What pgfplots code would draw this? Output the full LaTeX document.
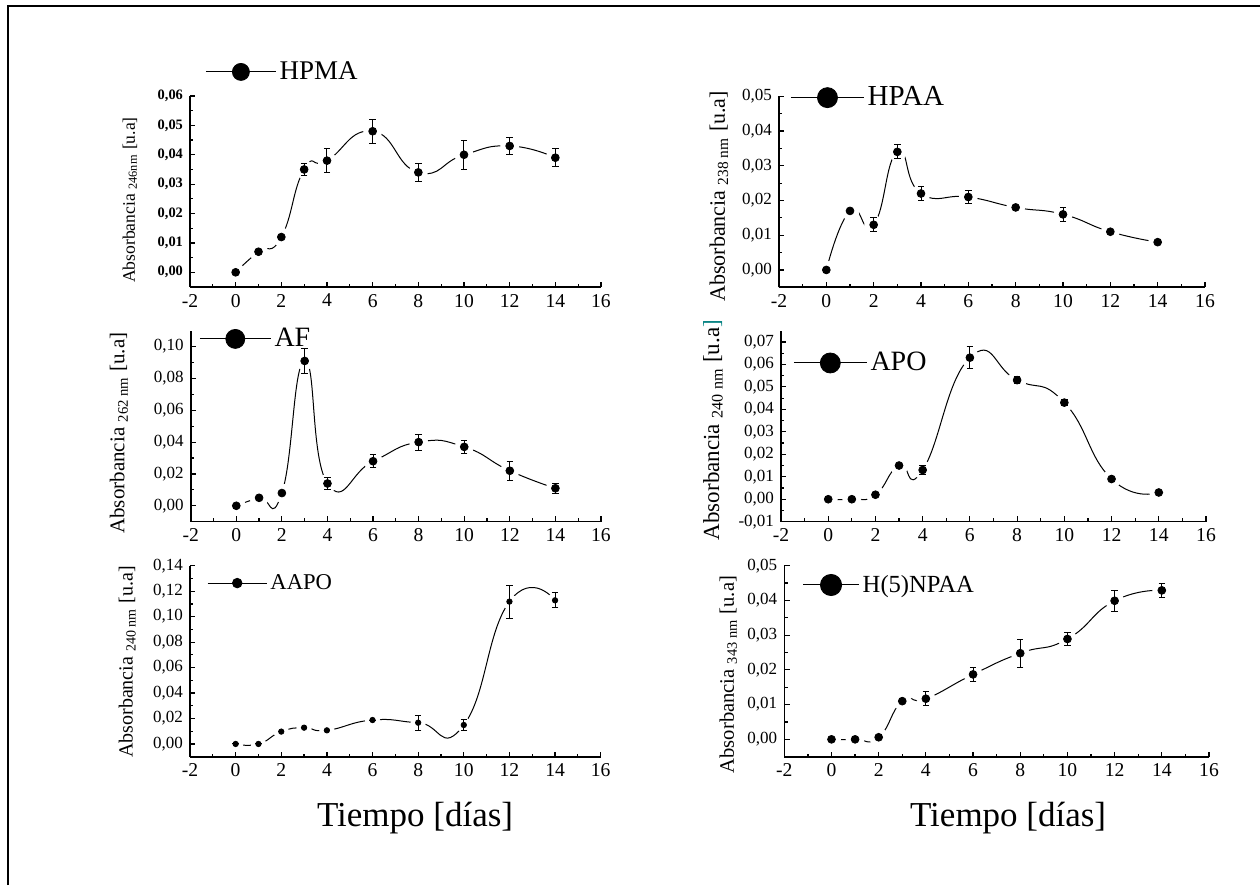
\documentclass[border=0pt]{standalone}
\usepackage{pgfplots}
\pgfplotsset{compat=1.18}
\usepackage{pgfplotstable}
\usepackage{fontspec}
\setmainfont{Liberation Serif}

% x: day, y: absorbance, e: error
\pgfplotstableread{
x y e
0 0 0
1 0.007 0
2 0.012 0
3 0.035 0.002
4 0.038 0.004
6 0.048 0.004
8 0.034 0.003
10 0.040 0.005
12 0.043 0.003
14 0.039 0.003
}\hpma
\pgfplotstableread{
x y e
0 0 0
1 0.017 0
2 0.013 0.002
3 0.034 0.002
4 0.022 0.002
6 0.021 0.002
8 0.018 0
10 0.016 0.002
12 0.011 0
14 0.008 0
}\hpaa
\pgfplotstableread{
x y e
0 0 0
1 0.005 0
2 0.008 0
3 0.091 0.008
4 0.014 0.004
6 0.028 0.004
8 0.040 0.005
10 0.037 0.004
12 0.022 0.006
14 0.011 0.003
}\af
\pgfplotstableread{
x y e
0 0 0
1 0 0
2 0.002 0
3 0.015 0
4 0.013 0.002
6 0.063 0.005
8 0.053 0.0015
10 0.043 0.0015
12 0.009 0
14 0.003 0
}\apo
\pgfplotstableread{
x y e
0 0 0
1 0 0
2 0.0097 0
3 0.0128 0
4 0.0107 0
6 0.0188 0
8 0.0167 0.006
10 0.0149 0.004
12 0.1118 0.013
14 0.1128 0.006
}\aapo
\pgfplotstableread{
x y e
0 0 0
1 0 0
2 0.0006 0
3 0.011 0
4 0.0117 0.002
6 0.0187 0.002
8 0.0248 0.004
10 0.0289 0.002
12 0.0399 0.003
14 0.0429 0.002
}\hnpaa

\pgfplotsset{
  panel/.style={
    scale only axis, height=95.5pt,
    xmin=-2, xmax=16, xtick={-2,0,2,4,6,8,10,12,14,16},
    minor x tick num=1, minor y tick num=1,
    axis lines=left, axis line style={-, line width=0.8pt},
    tick align=inside, major tick length=2.6pt, minor tick length=1.6pt,
    tick style={line width=0.6pt, black},
    scaled y ticks=false,
    /pgf/number format/assume math mode=true,
    y tick label style={/pgf/number format/fixed, /pgf/number format/fixed zerofill,
      /pgf/number format/precision=2, /pgf/number format/use comma},
    yticklabel style={font=\fontsize{8.5}{9}\selectfont},
    xticklabel style={font=\fontsize{9.8}{10}\selectfont},
    legend style={draw=none, fill=none, inner sep=0pt, anchor=west,
      nodes={inner sep=1.6pt}},
  },
  % geometry of the six panels
  g1/.style={at={(95pt,299pt)}, anchor=south west, width=205.5pt, ymin=-0.005, ymax=0.06},
  g2/.style={at={(389.5pt,298.85pt)}, anchor=south west, width=213pt, ymin=-0.005, ymax=0.05},
  g3/.style={at={(95.35pt,181.65pt)}, anchor=south west, width=205.15pt, ymin=-0.01, ymax=0.11},
  g4/.style={at={(390.5pt,181.65pt)}, anchor=south west, width=212.5pt, ymin=-0.01, ymax=0.075},
  g5/.style={at={(95pt,64.15pt)}, anchor=south west, width=205.35pt, ymin=-0.01, ymax=0.14},
  g6/.style={at={(392.15pt,64.15pt)}, anchor=south west, width=212.35pt, ymin=-0.005, ymax=0.05},
  under/.style={scale only axis, height=95.5pt, xmin=-2, xmax=16, hide axis},
  curve/.style={smooth, tension=0.9, line width=0.5pt, black, no marks, forget plot},
  halo/.style={only marks, mark=*, mark size=4.5pt, white, forget plot},
  ebars/.style={error bars/y dir=both, error bars/y explicit,
    error bars/error bar style={black, line width=0.5pt},
    error bars/error mark options={rotate=90, black, mark size=1.6pt, line width=0.5pt}},
  pts/.style={only marks, mark=*, mark size=1.95pt, black, forget plot, ebars},
  legimg/.style 2 args={legend image code/.code={
    \draw[line width=0.5pt] (0pt,0pt) -- (#1,0pt);
    \fill ({#1/2},0pt) circle (#2);}},
}

\begin{document}
\begin{tikzpicture}
\useasboundingbox (0,0) rectangle (630pt,442.5pt);
\draw[line width=1pt] (4pt,0pt) -- (4pt,439.5pt) -- (630pt,439.5pt);

% curves with white gaps round the points, drawn first
\begin{axis}[under, g1]
\addplot[curve] table[x=x,y=y]{\hpma};
\addplot[halo] table[x=x,y=y]{\hpma};
\end{axis}
\begin{axis}[under, g2]
\addplot[curve] table[x=x,y=y]{\hpaa};
\addplot[halo] table[x=x,y=y]{\hpaa};
\end{axis}
\begin{axis}[under, g3]
\addplot[curve] table[x=x,y=y]{\af};
\addplot[halo] table[x=x,y=y]{\af};
\end{axis}
\begin{axis}[under, g4]
\addplot[curve] table[x=x,y=y]{\apo};
\addplot[halo] table[x=x,y=y]{\apo};
\end{axis}
\begin{axis}[under, g5]
\addplot[curve] table[x=x,y=y]{\aapo};
\addplot[halo, mark size=3.6pt] table[x=x,y=y]{\aapo};
\end{axis}
\begin{axis}[under, g6]
\addplot[curve] table[x=x,y=y]{\hnpaa};
\addplot[halo] table[x=x,y=y]{\hnpaa};
\end{axis}

% HPMA
\begin{axis}[panel, g1, ytick={0,0.01,0.02,0.03,0.04,0.05,0.06},
  yticklabel style={font=\bfseries\fontsize{7.2}{8}\selectfont},
  ylabel={Absorbancia \textsubscript{246nm} [u.a]},
  ylabel style={at={(axis description cs:-0.146,0.455)}, anchor=center, font=\fontsize{8.8}{10}\selectfont},
  legend style={at={(axis description cs:0.0365,1.126)}, font=\fontsize{13.5}{15}\selectfont}]
\addplot[pts] table[x=x,y=y,y error=e]{\hpma};
\addlegendimage{legimg={35pt}{4.25pt}}
\addlegendentry{HPMA}
\end{axis}

% HPAA
\begin{axis}[panel, g2, ytick={0,0.01,0.02,0.03,0.04,0.05},
  ylabel={Absorbancia \textsubscript{238 nm} [u.a]},
  ylabel style={at={(axis description cs:-0.141,0.476)}, anchor=center, font=\fontsize{11}{12}\selectfont},
  legend style={at={(axis description cs:0.026,0.993)}, font=\fontsize{14.5}{16}\selectfont}]
\addplot[pts] table[x=x,y=y,y error=e]{\hpaa};
\addlegendimage{legimg={36.5pt}{5pt}}
\addlegendentry{HPAA}
\end{axis}

% AF
\begin{axis}[panel, g3, ytick={0,0.02,0.04,0.06,0.08,0.10},
  ylabel={Absorbancia \textsubscript{262 nm} [u.a]},
  ylabel style={at={(axis description cs:-0.175,0.464)}, anchor=center, font=\fontsize{10.5}{11}\selectfont},
  legend style={at={(axis description cs:0.020,0.957)}, font=\fontsize{14}{16}\selectfont}]
\addplot[pts] table[x=x,y=y,y error=e]{\af};
\addlegendimage{legimg={35.5pt}{4.75pt}}
\addlegendentry{AF}
\end{axis}

% APO
\begin{axis}[panel, g4, ytick={-0.01,0,0.01,0.02,0.03,0.04,0.05,0.06,0.07},
  ylabel={Absorbancia \textsubscript{240 nm} [u.a{\color{teal}]}},
  ylabel style={at={(axis description cs:-0.16,0.48)}, anchor=center, font=\fontsize{11.5}{13}\selectfont},
  legend style={at={(axis description cs:0.028,0.831)}, font=\fontsize{14}{16}\selectfont}]
\addplot[pts] table[x=x,y=y,y error=e]{\apo};
\addlegendimage{legimg={36.5pt}{5pt}}
\addlegendentry{APO}
\end{axis}

% AAPO
\begin{axis}[panel, g5, ytick={0,0.02,0.04,0.06,0.08,0.10,0.12,0.14},
  ylabel={Absorbancia \textsubscript{240 nm} [u.a]},
  ylabel style={at={(axis description cs:-0.153,0.496)}, anchor=center, font=\fontsize{10}{11}\selectfont},
  xlabel={Tiempo [días]},
  xlabel style={at={(axis description cs:0.548,-0.368)}, anchor=base, font=\fontsize{17.5}{19}\selectfont},
  legend style={at={(axis description cs:0.041,0.909)}, font=\fontsize{11.3}{13}\selectfont}]
\addplot[pts, mark size=1.35pt] table[x=x,y=y,y error=e]{\aapo};
\addlegendimage{legimg={29.5pt}{2.4pt}}
\addlegendentry{AAPO}
\end{axis}

% H(5)NPAA
\begin{axis}[panel, g6, ytick={0,0.01,0.02,0.03,0.04,0.05},
  ylabel={Absorbancia \textsubscript{343 nm} [u.a]},
  ylabel style={at={(axis description cs:-0.132,0.43)}, anchor=center, font=\fontsize{10.3}{11}\selectfont},
  xlabel={Tiempo [días]},
  xlabel style={at={(axis description cs:0.527,-0.368)}, anchor=base, font=\fontsize{17.5}{19}\selectfont},
  legend style={at={(axis description cs:0.042,0.899)}, font=\fontsize{12.3}{14}\selectfont}]
\addplot[pts] table[x=x,y=y,y error=e]{\hnpaa};
\addlegendimage{legimg={28pt}{5.3pt}}
\addlegendentry{H(5)NPAA}
\end{axis}
\end{tikzpicture}
\end{document}
